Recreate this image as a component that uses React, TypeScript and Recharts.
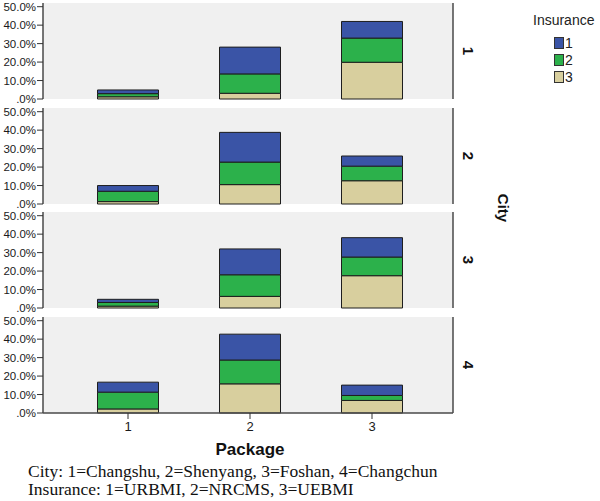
import React from 'react';
import { Bar, BarChart, CartesianGrid, XAxis, YAxis } from 'recharts';

const packages = ['1', '2', '3'];
const cities = ['1', '2', '3', '4'];
const insuranceLabels = ['1', '2', '3'];
const yTicks = [0, 10, 20, 30, 40, 50];

// percentage per package (1,2,3), one row per city
const urbmi = [
  [2.0, 14.5, 9.0],
  [3.1, 16.1, 5.5],
  [1.7, 14.0, 10.5],
  [5.4, 14.0, 5.6],
];
const nrcms = [
  [1.7, 10.5, 13.1],
  [5.6, 12.2, 7.9],
  [2.0, 11.7, 10.1],
  [9.1, 12.9, 2.7],
];
const uebmi = [
  [1.2, 3.1, 19.9],
  [1.3, 10.5, 12.6],
  [1.0, 6.3, 17.5],
  [2.2, 15.8, 6.8],
];

const colors = ['#3a54a6', '#2cb14b', '#d8cf9e'];
const sans = '"Liberation Sans", Arial, sans-serif';
const serif = '"Liberation Serif", "Times New Roman", serif';
const border = '#4a4a4a';
const pad = 8;

const fmt = (v: number) => (v === 0 ? '.0%' : `${v.toFixed(1)}%`);

function Panel({ idx }: { idx: number }) {
  const last = idx === cities.length - 1;
  const data = packages.map((p, j) => ({
    pkg: p,
    ins1: urbmi[idx][j],
    ins2: nrcms[idx][j],
    ins3: uebmi[idx][j],
  }));
  const tickStyle = { fill: '#1a1a1a', fontSize: 11.5, fontFamily: sans };
  return (
    <div style={{ position: 'absolute', left: 0, top: 3 + idx * 104.5 - pad }}>
      <BarChart
        width={483}
        height={96 + pad * 2 + (last ? 22 : 0)}
        data={data}
        margin={{ top: pad, right: 0, bottom: pad, left: 0 }}
        barCategoryGap="25%"
      >
        <CartesianGrid horizontal={false} vertical={false} fill="#f0f0f0" />
        <XAxis
          dataKey="pkg"
          padding={{ left: 24, right: 20 }}
          height={last ? 22 : 0}
          tick={last ? { ...tickStyle, fontSize: 13 } : false}
          tickLine={last ? { stroke: '#333' } : false}
          tickSize={6}
          tickMargin={3}
          axisLine={{ stroke: border, strokeWidth: 1.5 }}
        />
        <XAxis
          xAxisId="top"
          orientation="top"
          dataKey="pkg"
          height={0}
          tick={false}
          tickLine={false}
          axisLine={{ stroke: border, strokeWidth: 1.5 }}
        />
        <YAxis
          domain={[0, 52]}
          ticks={yTicks}
          tickFormatter={fmt}
          width={43}
          tickSize={6}
          tickMargin={1}
          tick={tickStyle}
          tickLine={{ stroke: '#333' }}
          axisLine={{ stroke: border, strokeWidth: 1.5 }}
          interval={0}
        />
        <YAxis
          yAxisId="right"
          orientation="right"
          domain={[0, 52]}
          width={30}
          tick={false}
          tickLine={false}
          axisLine={{ stroke: border, strokeWidth: 1.5 }}
          label={{
            value: cities[idx],
            position: 'center',
            angle: 90,
            style: { fill: '#111', fontSize: 15, fontWeight: 'bold', fontFamily: sans },
          }}
        />
        <Bar dataKey="ins3" stackId="a" fill={colors[2]} stroke="#1e1e1e" strokeWidth={1} isAnimationActive={false} />
        <Bar dataKey="ins2" stackId="a" fill={colors[1]} stroke="#1e1e1e" strokeWidth={1} isAnimationActive={false} />
        <Bar dataKey="ins1" stackId="a" fill={colors[0]} stroke="#1e1e1e" strokeWidth={1} isAnimationActive={false} />
      </BarChart>
    </div>
  );
}

export default function App() {
  return (
    <div
      style={{
        position: 'absolute',
        left: 0,
        top: 0,
        width: 600,
        height: 501,
        background: '#fff',
        overflow: 'hidden',
        fontFamily: sans,
      }}
    >
      {cities.map((c, i) => (
        <Panel key={c} idx={i} />
      ))}

      {/* legend */}
      <div style={{ position: 'absolute', left: 533, top: 12, fontSize: 14, color: '#222' }}>Insurance</div>
      {insuranceLabels.map((lab, i) => (
        <div key={lab} style={{ position: 'absolute', left: 554, top: 37 + i * 17, display: 'flex', alignItems: 'center' }}>
          <div style={{ width: 8, height: 10, background: colors[i], border: '1px solid #333' }} />
          <span style={{ marginLeft: 1, fontSize: 14, color: '#222', lineHeight: '12px' }}>{lab}</span>
        </div>
      ))}

      <div
        style={{
          position: 'absolute',
          left: 503,
          top: 208,
          transform: 'translate(-50%, -50%) rotate(90deg)',
          fontSize: 15,
          fontWeight: 'bold',
          color: '#111',
        }}
      >
        City
      </div>

      <div
        style={{
          position: 'absolute',
          left: 250,
          top: 440,
          transform: 'translateX(-50%)',
          fontSize: 17,
          fontWeight: 'bold',
          color: '#111',
        }}
      >
        Package
      </div>

      <div style={{ position: 'absolute', left: 28, top: 462, fontFamily: serif, fontSize: 17.5, lineHeight: '18px', color: '#111' }}>
        <div>City: 1=Changshu, 2=Shenyang, 3=Foshan, 4=Changchun</div>
        <div>Insurance: 1=URBMI, 2=NRCMS, 3=UEBMI</div>
      </div>
    </div>
  );
}
